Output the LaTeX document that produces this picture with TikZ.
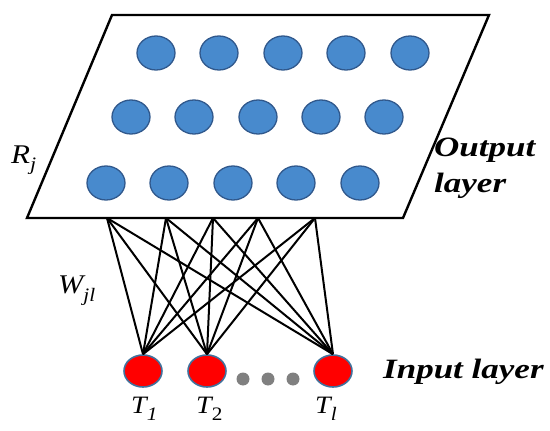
\documentclass[tikz,border=0pt]{standalone}
\usepackage{fontspec}
\usepackage{graphicx}
\setmainfont{Liberation Serif}
\usetikzlibrary{shapes.geometric}
\definecolor{outblue}{RGB}{72,138,205}
\definecolor{outedge}{RGB}{48,88,140}
\definecolor{inred}{RGB}{255,0,0}
\definecolor{inedge}{RGB}{65,113,156}
\definecolor{dotgrey}{RGB}{128,128,128}
\newcommand{\subtxt}[1]{{\fontsize{19}{20}\selectfont #1}}
\begin{document}
\begin{tikzpicture}[x=1pt,y=-1pt,
  outnode/.style={ellipse,draw=outedge,line width=1.3pt,fill=outblue,minimum width=38pt,minimum height=34pt,inner sep=0pt},
  innode/.style={ellipse,draw=inedge,line width=1.6pt,fill=inred,minimum width=38pt,minimum height=32pt,inner sep=0pt},
  gdot/.style={circle,fill=dotgrey,minimum size=13pt,inner sep=0pt},
  plane/.style={draw=black,line width=2.4pt,line join=miter},
  conn/.style={draw=black,line width=2pt},
  lbl/.style={font=\fontsize{27}{28}\selectfont\itshape,inner sep=0pt,anchor=base west},
  layerlbl/.style={font=\fontsize{28}{30}\selectfont\bfseries\itshape,inner sep=0pt,anchor=base west}]
\useasboundingbox (0,0) rectangle (550,431);
% plane
\coordinate (p1) at (112,15);
\coordinate (p2) at (489,15);
\coordinate (p3) at (403,218);
\coordinate (p4) at (27,218);
\draw[plane] (p1) -- (p2) -- (p3) -- (p4) -- cycle;
% output nodes
\foreach \x [count=\i] in {156,219,283,346,410} \node[outnode] (a\i) at (\x,53) {};
\foreach \x [count=\i] in {131,194,258,321,384} \node[outnode] (b\i) at (\x,117) {};
\foreach \x [count=\i] in {106,169,233,296,360} \node[outnode] (c\i) at (\x,183) {};
% connection points
\foreach \x [count=\i] in {107,166,213,258,315} \coordinate (t\i) at (\x,218);
% input nodes
\node[innode] (in1) at (143,371) {};
\node[innode] (in2) at (207,371) {};
\node[innode] (in3) at (333,371) {};
\node[gdot] (d1) at (243,379) {};
\node[gdot] (d2) at (268,379) {};
\node[gdot] (d3) at (293,379) {};
% connections
\foreach \i in {1,...,5} \foreach \j in {1,2,3} \draw[conn] (t\i) -- (in\j.north);
% labels
\node[lbl] (rj) at (11,163) {\scalebox{1.15}[1]{R\raisebox{-7pt}{\subtxt{j}}}};
\node[lbl] (wjl) at (58,293) {\scalebox{1.12}[1]{W\raisebox{-8pt}{\subtxt{jl}}}};
\node[lbl,font=\fontsize{25}{26}\selectfont\itshape] (lt1) at (131,413) {\scalebox{1.12}[1]{T\raisebox{-7pt}{\subtxt{1}}}};
\node[lbl,font=\fontsize{25}{26}\selectfont\itshape] (lt2) at (196,413) {\scalebox{1.12}[1]{T\raisebox{-7pt}{\subtxt{\upshape 2}}}};
\node[lbl,font=\fontsize{25}{26}\selectfont\itshape] (lt3) at (315,413) {\scalebox{1.12}[1]{T\raisebox{-7pt}{\subtxt{l}}}};
\node[layerlbl] (outl1) at (434,156) {\scalebox{1.25}[1]{Output}};
\node[layerlbl] (outl2) at (434,192) {\scalebox{1.25}[1]{layer}};
\node[layerlbl] (inl) at (383,378) {\scalebox{1.25}[1]{Input layer}};
\end{tikzpicture}
\end{document}
